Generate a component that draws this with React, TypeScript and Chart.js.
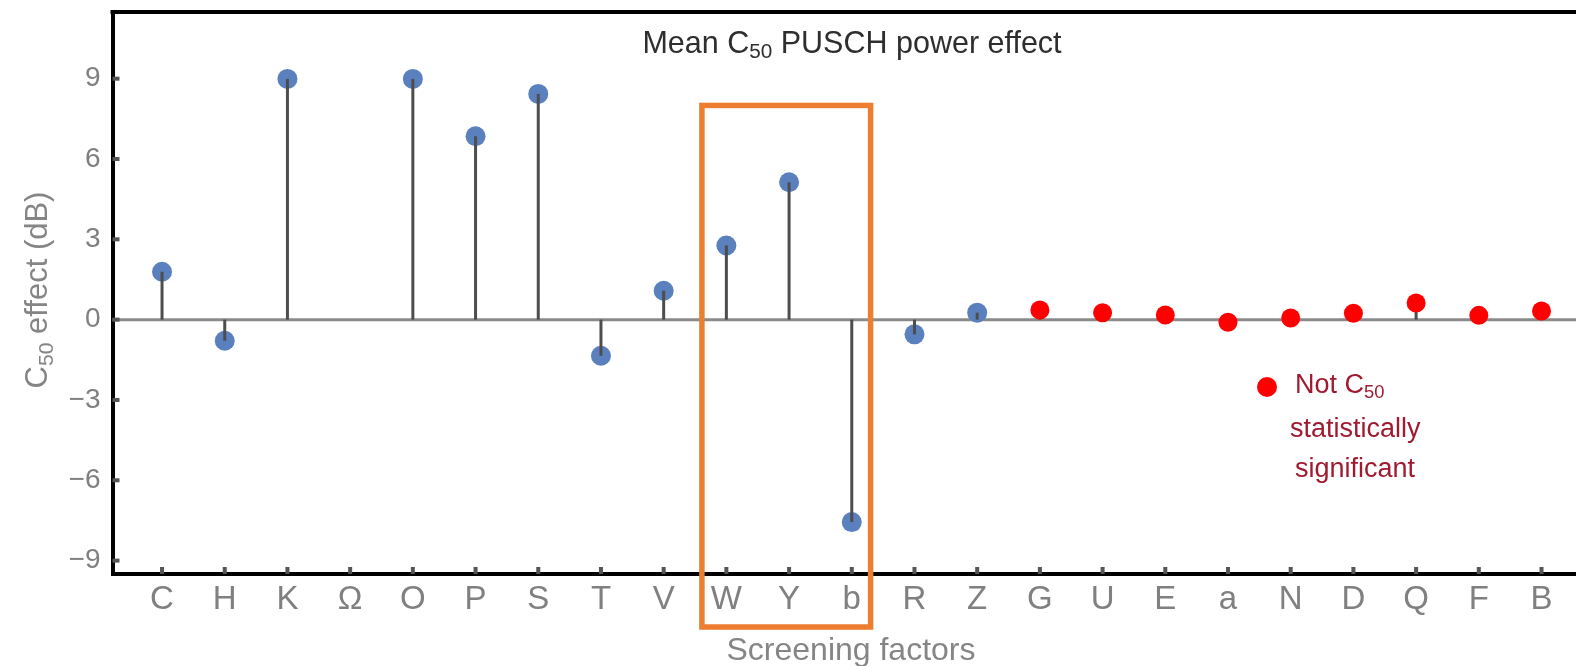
import React, { useEffect, useRef } from 'react';
import { Chart, registerables } from 'chart.js';

Chart.register(...registerables);

// ---- Data ----
const categories = ['C', 'H', 'K', 'Ω', 'O', 'P', 'S', 'T', 'V', 'W', 'Y', 'b', 'R', 'Z', 'G', 'U', 'E', 'a', 'N', 'D', 'Q', 'F', 'B'];
// Significant factors (blue), categories C..Z (Ω has no point)
const significantEffects: (number | null)[] = [1.79, -0.79, 8.99, null, 8.99, 6.85, 8.43, -1.35, 1.08, 2.77, 5.13, -7.56, -0.55, 0.26];
// Not statistically significant factors (red), categories G..B
const nonSignificantEffects: number[] = [0.36, 0.26, 0.17, -0.1, 0.06, 0.24, 0.62, 0.16, 0.32];
const yTickValues = [-9, -6, -3, 0, 3, 6, 9];
const highlightFrom = 'W';
const highlightTo = 'b';

const FONT = "'Liberation Sans', Arial, sans-serif";

type Part = { t: string; sub?: boolean };

function drawRich(ctx: CanvasRenderingContext2D, parts: Part[], x: number, y: number, size: number, color: string, align: 'left' | 'center') {
  const subSize = size * 0.68;
  const widths = parts.map((p) => {
    ctx.font = `${p.sub ? subSize : size}px ${FONT}`;
    return ctx.measureText(p.t).width;
  });
  const total = widths.reduce((a, b) => a + b, 0);
  let cx = align === 'center' ? x - total / 2 : x;
  ctx.fillStyle = color;
  ctx.textAlign = 'left';
  ctx.textBaseline = 'alphabetic';
  parts.forEach((p, i) => {
    ctx.font = `${p.sub ? subSize : size}px ${FONT}`;
    ctx.fillText(p.t, cx, p.sub ? y + size * 0.18 : y);
    cx += widths[i];
  });
}

const stemPlugin = {
  id: 'stemsAndDecor',
  beforeDatasetsDraw(chart: any) {
    const { ctx, chartArea, scales } = chart;
    const xs = scales.x;
    const ys = scales.y;
    const y0 = ys.getPixelForValue(0);
    ctx.save();
    // zero line
    ctx.strokeStyle = '#8a8a8a';
    ctx.lineWidth = 3;
    ctx.beginPath();
    ctx.moveTo(chartArea.left, y0);
    ctx.lineTo(chartArea.right, y0);
    ctx.stroke();
    // inward ticks
    ctx.fillStyle = '#555';
    categories.forEach((_, i) => {
      const px = xs.getPixelForValue(i);
      ctx.fillRect(px - 2, chartArea.bottom - 7, 4, 7);
    });
    yTickValues.forEach((v) => {
      const py = ys.getPixelForValue(v);
      ctx.fillRect(chartArea.left, py - 2, 7, 4);
    });
    ctx.restore();
  },
  afterDatasetDraw(chart: any, args: any) {
    if (args.index !== 1) return;
    const { ctx, scales } = chart;
    const xs = scales.x;
    const ys = scales.y;
    const y0 = ys.getPixelForValue(0);
    ctx.save();
    ctx.strokeStyle = '#4d4d4d';
    ctx.lineWidth = 3;
    const all: { x: number; y: number }[] = [];
    significantEffects.forEach((v, i) => { if (v != null) all.push({ x: i, y: v }); });
    nonSignificantEffects.forEach((v, i) => all.push({ x: 14 + i, y: v }));
    all.forEach((p) => {
      const px = xs.getPixelForValue(p.x);
      const py = ys.getPixelForValue(p.y);
      ctx.beginPath();
      ctx.moveTo(px, y0);
      ctx.lineTo(px, py);
      ctx.stroke();
    });
    ctx.restore();
  },
  afterDraw(chart: any) {
    const { ctx, chartArea, scales } = chart;
    const xs = scales.x;
    const ys = scales.y;
    ctx.save();
    // top frame
    ctx.strokeStyle = '#000';
    ctx.lineWidth = 4;
    ctx.beginPath();
    ctx.moveTo(chartArea.left - 2, chartArea.top);
    ctx.lineTo(chartArea.right, chartArea.top);
    ctx.stroke();

    // highlight box
    const i0 = categories.indexOf(highlightFrom);
    const i1 = categories.indexOf(highlightTo);
    const bx0 = xs.getPixelForValue(i0 - 0.39);
    const bx1 = xs.getPixelForValue(i1 + 0.3);
    const by0 = ys.getPixelForValue(8.0);
    const by1 = ys.getPixelForValue(-11.48);
    ctx.strokeStyle = '#ED7D31';
    ctx.lineWidth = 5.5;
    ctx.strokeRect(bx0, by0, bx1 - bx0, by1 - by0);

    // title
    drawRich(ctx, [{ t: 'Mean ' }, { t: 'C' }, { t: '50', sub: true }, { t: ' PUSCH power effect' }], 852, 53, 30.5, '#2e2e2e', 'center');

    // x axis title
    ctx.font = `32px ${FONT}`;
    ctx.fillStyle = '#858585';
    ctx.textAlign = 'center';
    ctx.textBaseline = 'alphabetic';
    ctx.fillText('Screening factors', 851, 660);

    // y axis title
    ctx.save();
    ctx.translate(47, 290);
    ctx.rotate(-Math.PI / 2);
    drawRich(ctx, [{ t: 'C' }, { t: '50', sub: true }, { t: ' effect (dB)' }], 0, 0, 31, '#858585', 'center');
    ctx.restore();

    // legend annotation
    ctx.fillStyle = '#ff0000';
    ctx.beginPath();
    ctx.arc(1267, 387, 10, 0, Math.PI * 2);
    ctx.fill();
    const lc = '#a01a30';
    drawRich(ctx, [{ t: 'Not ' }, { t: 'C' }, { t: '50', sub: true }], 1295, 393, 27, lc, 'left');
    drawRich(ctx, [{ t: 'statistically' }], 1290, 437, 27, lc, 'left');
    drawRich(ctx, [{ t: 'significant' }], 1295, 477, 27, lc, 'left');
    ctx.restore();
  },
};

export default function App() {
  const ref = useRef<HTMLCanvasElement>(null);
  useEffect(() => {
    document.body.style.margin = '0';
    const canvas = ref.current!;
    const blueData = significantEffects
      .map((v, i) => (v == null ? null : { x: i, y: v }))
      .filter((p) => p != null) as { x: number; y: number }[];
    const redData = nonSignificantEffects.map((v, i) => ({ x: 14 + i, y: v }));
    const chart = new Chart(canvas, {
      type: 'scatter',
      data: {
        datasets: [
          {
            label: 'Not significant',
            data: redData,
            pointRadius: 9.5,
            pointBackgroundColor: '#ff0000',
            pointBorderWidth: 0,
            pointBorderColor: '#ff0000',
          },
          {
            label: 'Significant',
            data: blueData,
            pointRadius: 10,
            pointBackgroundColor: '#5a80be',
            pointBorderWidth: 0,
            pointBorderColor: '#5a80be',
          },
        ],
      },
      options: {
        animation: false,
        responsive: false,
        maintainAspectRatio: false,
        layout: { autoPadding: false, padding: { top: 12, left: 0, right: 0, bottom: 0 } },
        plugins: {
          legend: { display: false },
          tooltip: { enabled: false },
          title: { display: false },
        },
        scales: {
          x: {
            type: 'linear',
            min: -0.79,
            max: 22.55,
            afterBuildTicks: (s: any) => {
              s.ticks = categories.map((_, i) => ({ value: i }));
            },
            afterFit: (s: any) => {
              s.height = 92;
              s.paddingLeft = 0;
              s.paddingRight = 0;
              s.paddingTop = 0;
              s.paddingBottom = 0;
            },
            ticks: {
              autoSkip: false,
              maxRotation: 0,
              padding: 6,
              color: '#808080',
              font: { family: FONT, size: 33 },
              callback: (v: any) => categories[Number(v)] ?? '',
            },
            grid: { display: false, drawTicks: false },
            border: { display: true, color: '#000', width: 4 },
          },
          y: {
            type: 'linear',
            min: -9.5,
            max: 11.49,
            afterBuildTicks: (s: any) => {
              s.ticks = yTickValues.map((v) => ({ value: v }));
            },
            afterFit: (s: any) => {
              s.width = 112.5;
              s.paddingTop = 0;
              s.paddingBottom = 0;
              s.paddingLeft = 0;
              s.paddingRight = 0;
            },
            ticks: {
              padding: 12,
              color: '#808080',
              font: { family: FONT, size: 28 },
              callback: (v: any) => (Number(v) < 0 ? '\u2212' + Math.abs(Number(v)) : String(v)),
            },
            grid: { display: false, drawTicks: false },
            border: { display: true, color: '#000', width: 4 },
          },
        },
      },
      plugins: [stemPlugin],
    } as any);
    return () => chart.destroy();
  }, []);
  return (
    <div style={{ position: 'absolute', left: 0, top: 0, width: 1576, height: 666, background: '#fff', overflow: 'hidden' }}>
      <canvas ref={ref} width={1576} height={666} style={{ display: 'block', width: 1576, height: 666 }} />
    </div>
  );
}
